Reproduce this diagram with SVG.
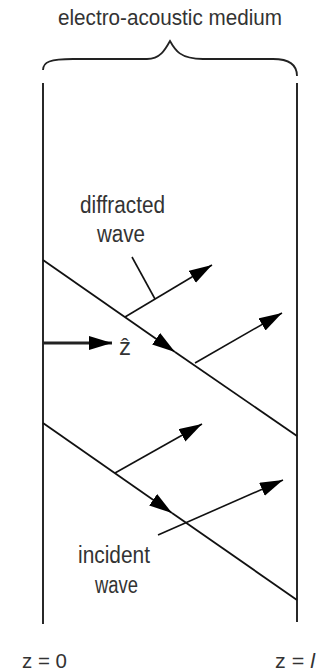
<svg xmlns="http://www.w3.org/2000/svg" width="326" height="671" viewBox="0 0 326 671">
<style>
.t{font-family:"Liberation Sans","DejaVu Sans",Arial,sans-serif;fill:#333;}
.ln{stroke:#111;fill:none;stroke-width:1.8;}
.ar{stroke:#111;fill:none;stroke-width:1.6;}
</style>
<defs>
<marker id="ah" markerUnits="userSpaceOnUse" markerWidth="26" markerHeight="16" refX="23" refY="7" orient="auto">
<path d="M0,0 L23,7 L0,14 Z" fill="#000"/>
</marker>
</defs>
<rect width="326" height="671" fill="#fff"/>
<g id="title">
<text class="t" x="58" y="25" font-size="22" textLength="224" lengthAdjust="spacingAndGlyphs">electro-acoustic medium</text>
<path d="M43,70 C43,62 50,59 73,59 L147,59 C160,59 165,50 170,41 C175,50 180,59 203,59 L273,59 C290,59 297,66 297,76" stroke="#222" stroke-width="1.8" fill="none"/>
</g>
<g id="boundaries">
<line class="ln" x1="43" y1="83" x2="43" y2="624"/>
<line class="ln" x1="297" y1="83" x2="297" y2="622"/>
</g>
<g id="connectors">
<path class="ln" d="M43,260 L175,352" marker-end="url(#ah)"/>
<path class="ln" d="M175,352 L297,436"/>
<path class="ln" d="M43,423 L172,513" marker-end="url(#ah)"/>
<path class="ln" d="M172,513 L297,600"/>
<line class="ar" x1="125" y1="317" x2="212" y2="265" marker-end="url(#ah)"/>
<line class="ar" x1="195" y1="363" x2="282" y2="313" marker-end="url(#ah)"/>
<line class="ar" x1="115" y1="473" x2="202" y2="424" marker-end="url(#ah)"/>
<line class="ar" x1="158" y1="535" x2="283" y2="480" marker-end="url(#ah)"/>
<line class="ar" x1="132" y1="257" x2="155" y2="299"/>
<line stroke="#222" stroke-width="3" x1="43" y1="343" x2="112" y2="343" marker-end="url(#ah)"/>
</g>
<g id="zhat">
<text class="t" x="125" y="355" font-size="24" text-anchor="middle" fill="#222">ẑ</text>
</g>
<g id="diffracted-label">
<text class="t" x="80" y="213" font-size="23" textLength="85" lengthAdjust="spacingAndGlyphs">diffracted</text>
<text class="t" x="97" y="242" font-size="23" textLength="48" lengthAdjust="spacingAndGlyphs">wave</text>
</g>
<g id="incident-label">
<text class="t" x="78" y="563" font-size="23" textLength="72" lengthAdjust="spacingAndGlyphs">incident</text>
<text class="t" x="95" y="593" font-size="23" textLength="43" lengthAdjust="spacingAndGlyphs">wave</text>
</g>
<g id="axis-labels">
<text class="t" x="22" y="668" font-size="21" textLength="45" lengthAdjust="spacingAndGlyphs">z = 0</text>
<text class="t" x="275" y="668" font-size="21" textLength="40" lengthAdjust="spacingAndGlyphs">z = <tspan font-style="italic">l</tspan></text>
</g>
</svg>
